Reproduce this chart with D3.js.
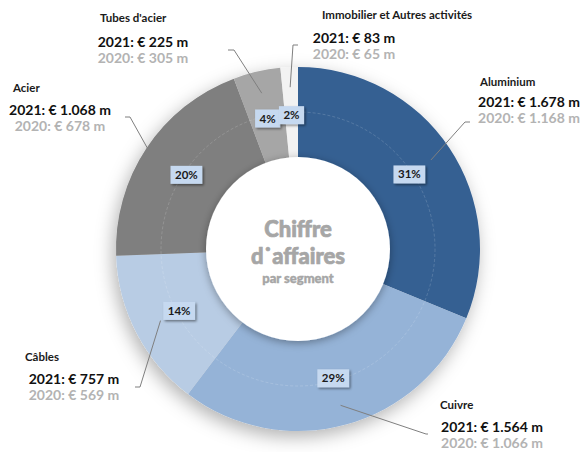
<!DOCTYPE html>
<html lang="fr">
<head>
<meta charset="UTF-8">
<title>Chiffre d'affaires par segment</title>
<script src="https://d3js.org/d3.v7.min.js"></script>
<style>
  body { margin: 0; background: #fff; }
  svg { display: block; font-family: Lato, "Open Sans", sans-serif; }
</style>
</head>
<body>
<svg width="582" height="452"></svg>
<script>
// data
const segments = ['Aluminium', 'Cuivre', 'Câbles', 'Acier', "Tubes d'acier", 'Immobilier et Autres activités'];
const values2021 = [1678, 1564, 757, 1068, 225, 83];
const values2020 = [1168, 1066, 569, 678, 305, 65];
const segmentColors = ['#366092', '#95b3d7', '#b8cce4', '#7f7f7f', '#a6a6a6', '#f2f2f2'];

// where each outside label sits (title start, value line centre, leader elbow)
const labelLayout = [
  { tx: 480, ty: 86,  vx: 529, vy: 107, elbow: [470, 122], stub: -5, r: 160 },
  { tx: 440, ty: 409, vx: 492, vy: 432, elbow: [428, 434], stub: -2, r: 162 },
  { tx: 25,  ty: 361, vx: 74,  vy: 384, elbow: [135, 387], stub: 5,  r: 155 },
  { tx: 13,  ty: 92,  vx: 60,  vy: 115, elbow: [125, 117], stub: 5,  r: 180 },
  { tx: 100, ty: 22,  vx: 143, vy: 47,  elbow: [228, 50],  stub: 6,  r: 160 },
  { tx: 322, ty: 19,  vx: 354, vy: 43,  elbow: [298, 45],  stub: -5, r: 162 }
];

const cx = 298, cy = 249;
const outerR = 182, innerR = 88, holeR = 92, pctR = 134;

const svg = d3.select('svg');
const defs = svg.append('defs');

const ringShadow = defs.append('filter').attr('id', 'ringShadow')
  .attr('x', '-30%').attr('y', '-30%').attr('width', '160%').attr('height', '160%');
ringShadow.append('feDropShadow')
  .attr('dx', -3).attr('dy', 6).attr('stdDeviation', 9)
  .attr('flood-color', '#000').attr('flood-opacity', 0.3);

const holeShadow = defs.append('filter').attr('id', 'holeShadow')
  .attr('x', '-30%').attr('y', '-30%').attr('width', '160%').attr('height', '160%');
holeShadow.append('feDropShadow')
  .attr('dx', 0).attr('dy', 2).attr('stdDeviation', 4)
  .attr('flood-color', '#000').attr('flood-opacity', 0.35);

const boxShadow = defs.append('filter').attr('id', 'boxShadow')
  .attr('x', '-30%').attr('y', '-30%').attr('width', '160%').attr('height', '160%');
boxShadow.append('feDropShadow')
  .attr('dx', 1.5).attr('dy', 1.5).attr('stdDeviation', 1.2)
  .attr('flood-color', '#000').attr('flood-opacity', 0.45);

const total = d3.sum(values2021);
const pie = d3.pie().sort(null).value(d => d)(values2021);
const arc = d3.arc().innerRadius(innerR).outerRadius(outerR);

const g = svg.append('g').attr('transform', `translate(${cx},${cy})`);

// ring
g.append('g').attr('filter', 'url(#ringShadow)')
  .selectAll('path')
  .data(pie)
  .enter().append('path')
  .attr('d', arc)
  .attr('fill', (d, i) => segmentColors[i]);

// faint inner guide circle
g.append('circle')
  .attr('r', 137)
  .attr('fill', 'none')
  .attr('stroke', '#fff')
  .attr('stroke-opacity', 0.2)
  .attr('stroke-width', 0.8)
  .attr('stroke-dasharray', '3,2');

// white centre disk
g.append('circle')
  .attr('r', holeR)
  .attr('fill', '#fff')
  .attr('filter', 'url(#holeShadow)');

// centre title (thin stroke to get the heavy look)
const centre = g.append('text')
  .attr('text-anchor', 'middle')
  .attr('fill', '#a6a6a6')
  .attr('stroke', '#a6a6a6')
  .attr('stroke-width', 0.7)
  .attr('font-weight', 900);
centre.append('tspan').attr('x', 0).attr('y', -12).attr('font-size', 22).text('Chiffre');
centre.append('tspan').attr('x', 0).attr('y', 15).attr('font-size', 22).text('d\u02d9affaires');
centre.append('tspan').attr('x', 0).attr('y', 34).attr('font-size', 13).attr('stroke-width', 0.4).text('par segment');

// leader lines
const midAngle = d => (d.startAngle + d.endAngle) / 2;
svg.append('g').selectAll('polyline')
  .data(pie)
  .enter().append('polyline')
  .attr('fill', 'none')
  .attr('stroke', '#7f7f7f')
  .attr('stroke-width', 1)
  .attr('points', (d, i) => {
    const L = labelLayout[i];
    const a = midAngle(d);
    const px = cx + L.r * Math.sin(a), py = cy - L.r * Math.cos(a);
    return [[L.elbow[0], L.elbow[1]], [L.elbow[0] + L.stub, L.elbow[1]], [px, py]].join(' ');
  });

// outside labels
const fr = d3.formatLocale({ decimal: ',', thousands: '.', grouping: [3], currency: ['€', ''] });
const fmt = fr.format(',d');

const labels = svg.append('g').selectAll('g')
  .data(segments)
  .enter().append('g');

labels.append('text')
  .attr('x', (d, i) => labelLayout[i].tx)
  .attr('y', (d, i) => labelLayout[i].ty)
  .attr('font-size', 11.5)
  .attr('font-weight', 'bold')
  .attr('fill', '#1a1a1a')
  .text(d => d);

labels.append('text')
  .attr('x', (d, i) => labelLayout[i].vx)
  .attr('y', (d, i) => labelLayout[i].vy)
  .attr('text-anchor', 'middle')
  .attr('font-size', 14)
  .attr('font-weight', 'bold')
  .attr('fill', '#111')
  .text((d, i) => `2021: € ${fmt(values2021[i])} m`);

labels.append('text')
  .attr('x', (d, i) => labelLayout[i].vx)
  .attr('y', (d, i) => labelLayout[i].vy + 16)
  .attr('text-anchor', 'middle')
  .attr('font-size', 14)
  .attr('font-weight', 'bold')
  .attr('fill', '#b3b3b3')
  .text((d, i) => `2020: € ${fmt(values2020[i])} m`);

// percentage boxes
const pct = g.append('g').selectAll('g')
  .data(pie)
  .enter().append('g')
  .attr('transform', d => {
    const a = midAngle(d);
    return `translate(${pctR * Math.sin(a)},${-pctR * Math.cos(a)})`;
  });

pct.append('text')
  .attr('text-anchor', 'middle')
  .attr('dy', '0.35em')
  .attr('font-size', 11.5)
  .attr('font-weight', 'bold')
  .attr('fill', '#1a1a1a')
  .text(d => `${Math.round(d.value / total * 100)}%`);

pct.each(function () {
  const grp = d3.select(this);
  const w = grp.select('text').node().getComputedTextLength() + 9;
  grp.insert('rect', 'text')
    .attr('x', -w / 2).attr('y', -9)
    .attr('width', w).attr('height', 18)
    .attr('fill', '#c6d9f0')
    .attr('filter', 'url(#boxShadow)');
});
</script>
</body>
</html>
